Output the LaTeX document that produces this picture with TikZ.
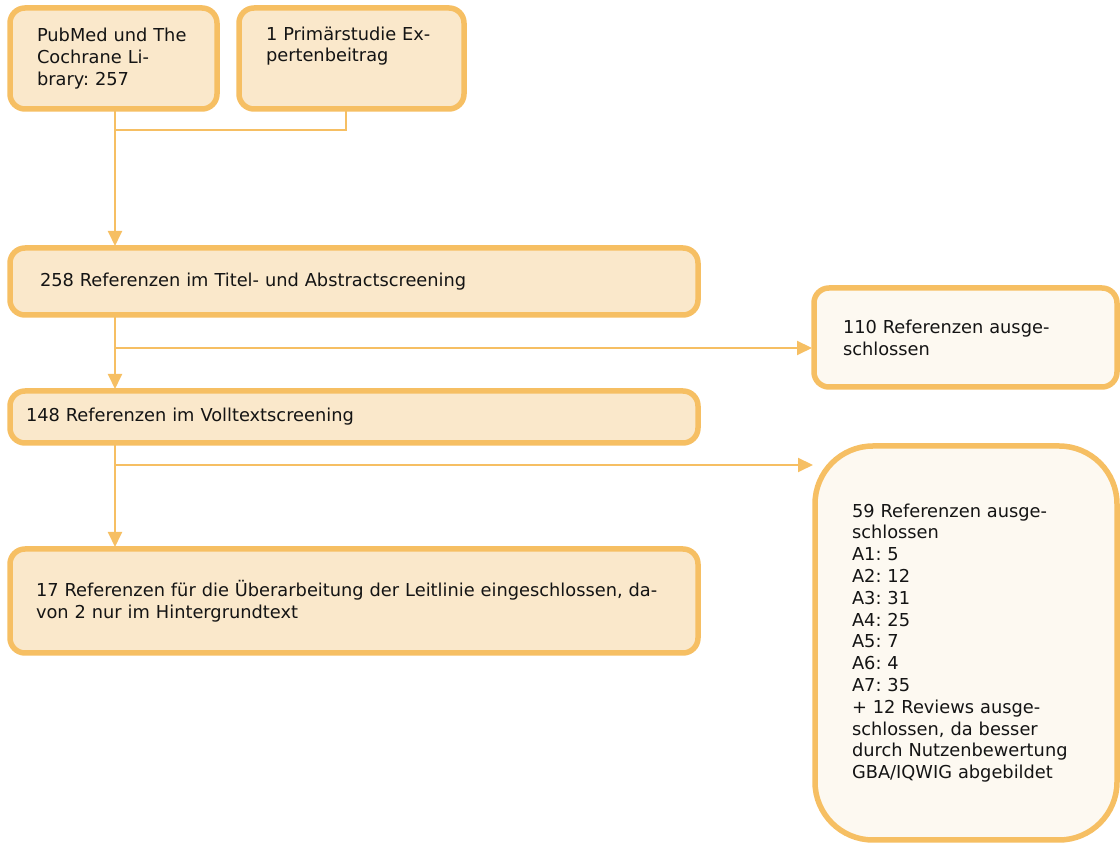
\documentclass[tikz,border=0pt]{standalone}
\usepackage{fontspec}
\setmainfont{DejaVu Sans}
\frenchspacing
\usetikzlibrary{arrows.meta}
\definecolor{ora}{HTML}{F6BF63}
\definecolor{boxfill}{HTML}{FAE8CB}
\definecolor{outfill}{HTML}{FDF9F1}
\definecolor{ink}{HTML}{141414}
\tikzset{
  box/.style={draw=ora, fill=boxfill, line width=5.5pt, rounded corners=15pt,
    align=left, anchor=north west, outer sep=0pt, text=ink,
    font=\fontsize{17.8}{21.8}\selectfont},
  outbox/.style={box, fill=outfill},
  link/.style={draw=ora, line width=2pt},
  flow/.style={link, -{Triangle[width=14pt,length=15pt]}, shorten >=2pt}
}
\begin{document}
\begin{tikzpicture}[x=1pt, y=1pt]
\useasboundingbox (0,0) rectangle (1120,843);
\clip (0,0) rectangle (1120,843);

% sources
\node[box, minimum height=101pt, text width=153pt, inner xsep=27pt] (A) at (10,835)
  {PubMed und The\\Cochrane Li-\\brary: 257};
\node[box, minimum height=101pt, text width=171pt, inner xsep=27pt] (B) at (239,835)
  {1 Primärstudie Ex-\\pertenbeitrag\\\strut};

% screening steps
\node[box, minimum height=67pt, text width=628pt, inner xsep=30pt] (C) at (10,595)
  {258 Referenzen im Titel- und Abstractscreening};
\node[box, minimum height=52pt, text width=656pt, inner xsep=16pt] (D) at (10,452)
  {148 Referenzen im Volltextscreening};
\node[box, minimum height=104pt, text width=636pt, inner xsep=26pt] (F) at (10,294)
  {17 Referenzen für die Überarbeitung der Leitlinie eingeschlossen, da-\\von 2 nur im Hintergrundtext};

% exclusions
\node[outbox, minimum height=99pt, text width=245pt, inner xsep=29pt] (E) at (814,555)
  {110 Referenzen ausge-\\schlossen};
\node[outbox, rounded corners=58pt, minimum height=394pt, text width=228pt, inner xsep=37pt] (G) at (815,397)
  {59 Referenzen ausge-\\schlossen\\A1: 5\\A2: 12\\A3: 31\\A4: 25\\A5: 7\\A6: 4\\A7: 35\\+ 12 Reviews ausge-\\schlossen, da besser\\durch Nutzenbewertung\\GBA/IQWIG abgebildet};

% connector positions
\coordinate (spine) at (115,0);
\coordinate (bdrop) at (346,0);
\coordinate (merge) at (115,713);
\coordinate (br1) at (115,495);
\coordinate (br2) at (115,378);

% connectors
\draw[link] (B.south -| bdrop) |- (merge);
\draw[flow] (A.south -| spine) -- (C.north -| spine);
\draw[flow] (C.south -| spine) -- (D.north -| spine);
\draw[flow] (br1) -- (br1 -| E.west);
\draw[flow] (D.south -| spine) -- (F.north -| spine);
\draw[flow] (br2) -- (br2 -| G.west);
\end{tikzpicture}
\end{document}
